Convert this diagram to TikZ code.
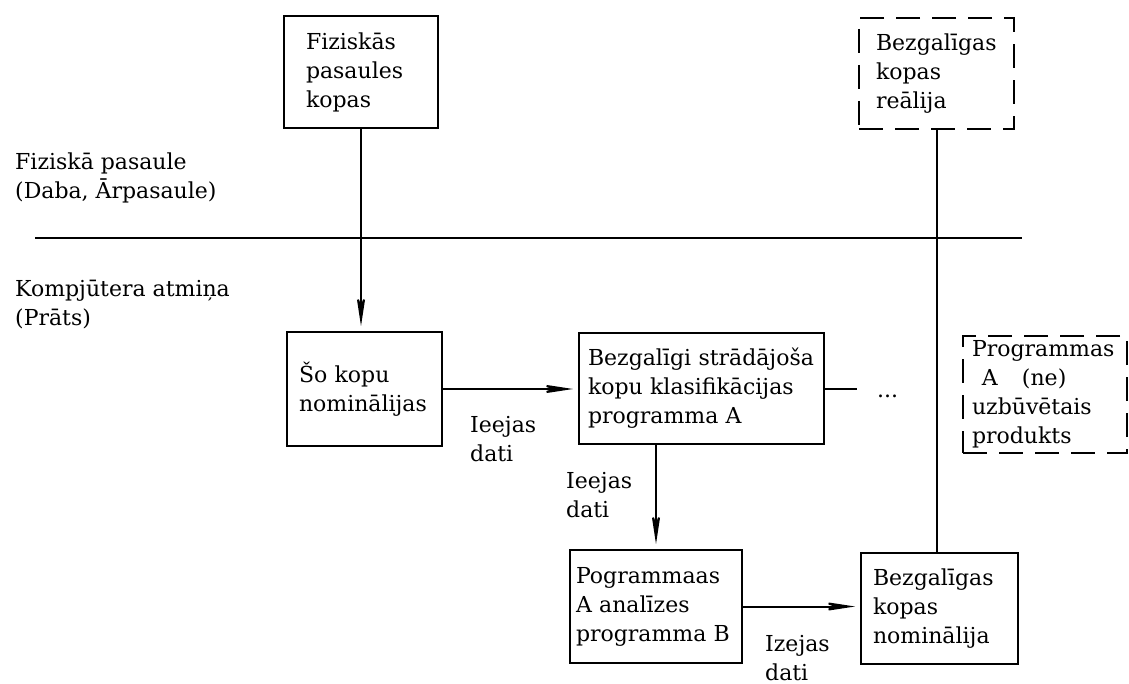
\documentclass[tikz,border=0pt]{standalone}
\usepackage{fontspec}
\setmainfont{DejaVu Serif}
\usetikzlibrary{arrows.meta}
\newcommand\diafont{\fontsize{22}{29}\selectfont}
\tikzset{
  every node/.style={font=\diafont},
  box/.style={draw, line width=2pt, align=left, anchor=north west, inner ysep=4pt},
  dbox/.style={box, dash pattern=on 24pt off 12pt},
  wire/.style={line width=2pt},
  >={Stealth[length=36pt,width=11pt,inset=15pt]},
  flow/.style={wire, ->, shorten >=5pt},
  lbl/.style={align=left, inner sep=0pt, anchor=base west},
}
\begin{document}
\begin{tikzpicture}[x=1pt,y=-1pt]
\useasboundingbox (0,0) rectangle (1129,684);

% world / memory boundary
\coordinate (hl) at (35,238);
\coordinate (hr) at (1022,238);
\draw[wire] (hl) -- (hr);

% two-line labels: the anchor sits on the baseline of the second line
\node[lbl] (world) at (15,199) {Fiziskā pasaule\\(Daba, Ārpasaule)};
\node[lbl] (mind) at (15,326) {Kompjūtera atmiņa\\(Prāts)};

% boxes
\node[box, text width=110pt, inner xsep=22pt, minimum height=112pt] (b1) at (283,15)
  {Fiziskās\\pasaules\\kopas};
\node[dbox, text width=121pt, inner xsep=17pt, minimum height=111pt] (real) at (858,17)
  {Bezgalīgas\\kopas\\reālija};
\node[box, text width=131pt, inner xsep=12pt, minimum height=114pt] (b2) at (286,331)
  {Šo kopu\\nominālijas};
\node[box, text width=227pt, inner xsep=9pt, minimum height=111pt] (b3) at (578,332)
  {Bezgalīgi strādājoša\\kopu klasifikācijas\\programma A};
\node[dbox, text width=146pt, inner xsep=9pt, minimum height=117pt] (prod) at (962,335)
  {Programmas\\\hspace{0.45em}A\hspace{1.1em}(ne)\\uzbūvētais\\produkts};
\node[box, text width=160pt, inner xsep=6pt, minimum height=113pt] (b4) at (569,549)
  {Pogrammaas\\A analīzes\\programma B};
\node[box, text width=133pt, inner xsep=12pt, minimum height=111pt] (b5) at (860,552)
  {Bezgalīgas\\kopas\\nominālija};

\node[lbl] (dots) at (877,397) {...};

% edge labels
\node[lbl] (in1) at (470,461) {Ieejas\\dati};
\node[lbl] (in2) at (566,517) {Ieejas\\dati};
\node[lbl] (out) at (765,680) {Izejas\\dati};

% connectors
\draw[flow] (b1.south) -- (b1.south |- b2.north);
\draw[flow] (b2.east) -- (b2.east -| b3.west);
\draw[wire, shorten >=20pt] (b3.east) -- (b3.east -| dots.west);
\draw[flow] (b4.north |- b3.south) -- (b4.north);
\draw[flow] (b4.east) -- (b4.east -| b5.west);
\draw[wire] (real.south) -- (real.south |- b5.north);
\end{tikzpicture}
\end{document}
